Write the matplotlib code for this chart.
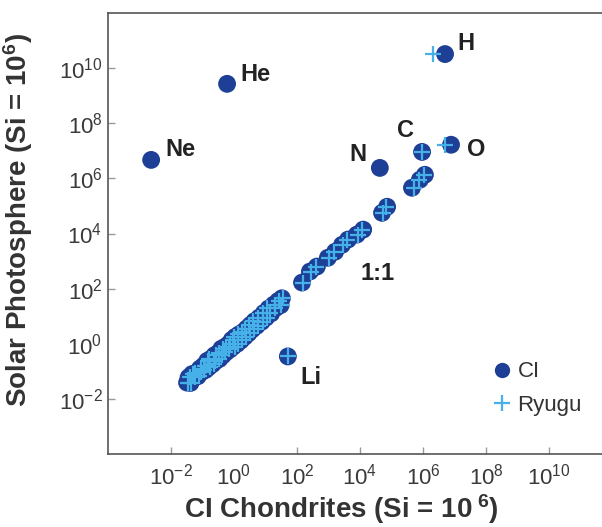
import numpy as np
import matplotlib.pyplot as plt
from matplotlib.lines import Line2D

plt.rcParams['font.family'] = ['Liberation Sans', 'DejaVu Sans']
plt.rcParams['mathtext.fontset'] = 'custom'
plt.rcParams['mathtext.rm'] = 'Liberation Sans'
plt.rcParams['mathtext.it'] = 'Liberation Sans:italic'
plt.rcParams['mathtext.bf'] = 'Liberation Sans:bold'
plt.rcParams['axes.unicode_minus'] = False

# log10 abundances, Si = 10^6
# labelled elements that sit off the 1:1 line
outlier_names = ['H', 'He', 'Ne', 'N', 'C', 'O', 'Li']
outlier_ci = [6.70, -0.22, -2.63, 4.63, 5.97, 6.89, 1.71]
outlier_sun = [10.51, 9.43, 6.67, 6.38, 6.96, 7.22, -0.46]

ryugu_out_x = [6.32, 5.97, 6.70, 1.71]
ryugu_out_y = [10.51, 6.96, 7.22, -0.46]

# elements along the 1:1 trend
trend_ci = [-1.49, -1.44, -1.38, -1.33, -1.27, -1.20, -1.15, -1.08, -1.02, -0.97,
            -0.90, -0.85, -0.80, -0.74, -0.68, -0.62, -0.57, -0.52, -0.46, -0.40,
            -0.35, -0.30, -0.24, -0.18, -0.12, -0.07, -0.02, 0.04, 0.10, 0.16,
            0.22, 0.28, 0.34, 0.40, 0.46, 0.52, 0.58, 0.65, 0.72, 0.80,
            0.88, 0.95, 1.02, 1.10, 1.18, 1.26, 1.33, 1.40, 1.48, 1.52,
            2.16, 2.41, 2.63, 2.98, 3.21, 3.43, 3.62, 3.90, 4.10, 4.70,
            4.86, 5.65, 5.90, 6.06]
trend_sun = [-1.41, -1.22, -1.42, -1.10, -1.20, -1.05, -1.18, -0.90, -1.02, -0.80,
             -0.95, -0.62, -0.85, -0.55, -0.74, -0.42, -0.62, -0.35, -0.55, -0.18,
             -0.42, -0.12, -0.30, -0.02, -0.20, 0.14, -0.10, 0.25, 0.00, 0.34,
             0.12, 0.42, 0.25, 0.55, 0.38, 0.68, 0.52, 0.82, 0.65, 0.95,
             0.80, 1.12, 0.95, 1.28, 1.10, 1.42, 1.30, 1.55, 1.40, 1.65,
             2.22, 2.62, 2.80, 3.12, 3.34, 3.59, 3.78, 3.96, 4.14, 4.75,
             4.97, 5.66, 5.95, 6.13]
trend_ryugu = [-1.46, -1.40, -1.35, -1.30, -1.24, -1.23, -1.11, -1.05, -1.06, -0.93,
               -0.94, -0.82, -0.76, -0.78, -0.64, -0.58, -0.60, -0.48, -0.49, -0.36,
               -0.38, -0.26, -0.28, -0.14, -0.15, -0.03, 0.02, 0.00, 0.14, 0.12,
               0.26, 0.24, 0.38, 0.36, 0.50, 0.48, 0.62, 0.61, 0.76, 0.76,
               0.92, 0.91, 1.06, 1.06, 1.14, 1.30, 1.30, 1.44, 1.50, 1.55,
               2.19, 2.45, 2.60, 3.03, 3.18, 3.47, 3.60, 3.95, 4.06, 4.74,
               4.82, 5.70, 5.86, 6.02]

ci_x = np.power(10.0, trend_ci + outlier_ci)
ci_y = np.power(10.0, trend_sun + outlier_sun)
ry_x = np.power(10.0, trend_ryugu + ryugu_out_x)
ry_y = np.power(10.0, trend_sun + ryugu_out_y)

dark_blue = '#1d3f95'
light_blue = '#45b1e8'

fig = plt.figure(figsize=(6.02, 5.27), dpi=100)
ax = fig.add_axes([108 / 602, 73 / 527, 504 / 602, 441 / 527])

ax.scatter(ci_x, ci_y, s=165, color=dark_blue, edgecolors='none', zorder=3)
ax.scatter(ry_x, ry_y, s=125, marker='+', color=light_blue, linewidths=1.6, zorder=4)

label_offsets = {'H': (21, 11), 'He': (28, 9), 'Ne': (29, 10), 'N': (-22, 13),
                 'C': (-17, 21), 'O': (25, -5), 'Li': (23, -21)}
for name, lx, ly in zip(outlier_names, outlier_ci, outlier_sun):
    ax.annotate(name, (10 ** lx, 10 ** ly), xytext=label_offsets[name],
                textcoords='offset pixels', ha='center', va='center',
                fontsize=17, fontweight='bold', color='#222222')

ax.text(10 ** 4.55, 10 ** 2.55, '1:1', ha='center', va='center',
        fontsize=17, fontweight='bold', color='#222222')

ax.set_xscale('log')
ax.set_yscale('log')
ax.set_xlim(1e-4, 1e12)
ax.set_ylim(1e-4, 1e12)

ticks = [1e-2, 1e0, 1e2, 1e4, 1e6, 1e8, 1e10]
ax.set_xticks(ticks)
ax.set_yticks(ticks)
ax.minorticks_off()
ax.tick_params(direction='in', length=5, width=1, color='#999999',
               labelsize=16, labelcolor='#3a3a3a')
ax.tick_params(axis='x', pad=7)
ax.tick_params(axis='y', pad=4)
ax.xaxis.get_major_ticks()[1].tick1line.set_visible(False)
ax.yaxis.get_major_ticks()[1].tick1line.set_visible(False)

for side in ['left', 'bottom', 'top']:
    ax.spines[side].set_color('#555555')
    ax.spines[side].set_linewidth(1.2)
ax.spines['right'].set_visible(False)

ax.text(0.462, -0.124, r'CI Chondrites (Si = 10$^{\mathbf{\ 6}}$)', transform=ax.transAxes,
        ha='center', va='center', fontsize=20, fontweight='bold', color='#333333')
ax.text(-0.178, 0.53, r'Solar Photosphere (Si = 10$^{\mathbf{6}}$)', transform=ax.transAxes,
        ha='center', va='center', rotation=90, fontsize=20, fontweight='bold',
        color='#333333')

handles = [Line2D([], [], linestyle='none', marker='o', markersize=11,
                  markerfacecolor=dark_blue, markeredgecolor='none', label='CI'),
           Line2D([], [], linestyle='none', marker='+', markersize=11.5,
                  markeredgewidth=1.6, color=light_blue, label='Ryugu')]
leg = ax.legend(handles=handles, loc='upper left', bbox_to_anchor=(0.764, 0.21),
                frameon=False, borderpad=0, borderaxespad=0, handlelength=0.8,
                handletextpad=0.3, labelspacing=0.55, fontsize=16)
for t in leg.get_texts():
    t.set_color('#333333')

fig.savefig('out.png', dpi=100)
